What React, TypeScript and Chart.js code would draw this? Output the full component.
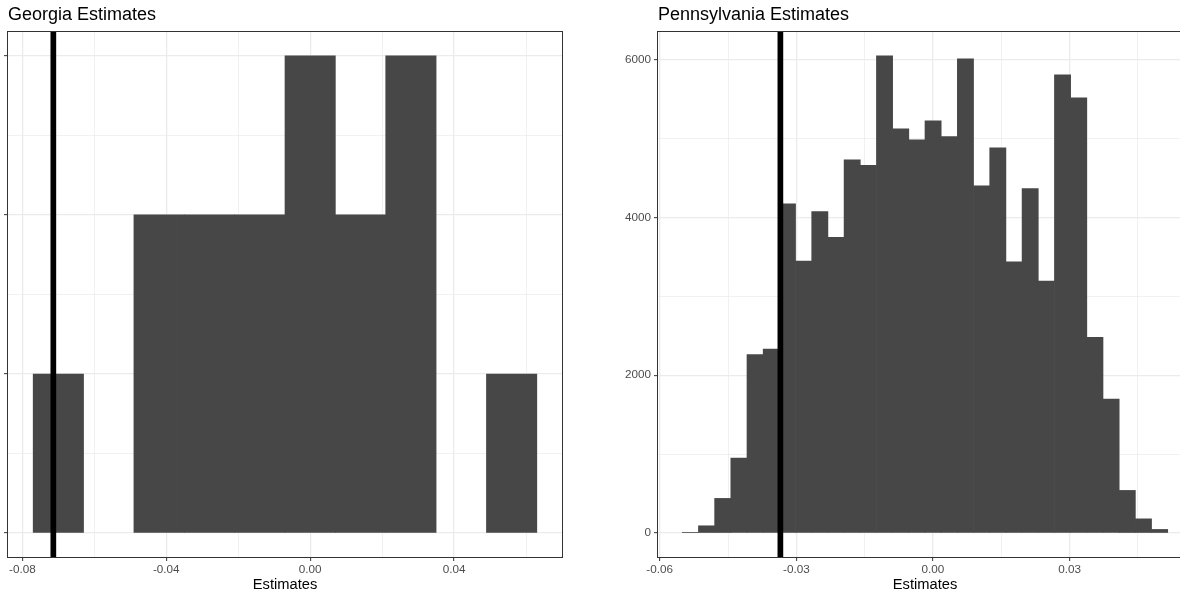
import React, { useEffect, useRef } from "react";
import { Chart, registerables } from "chart.js";

Chart.register(...registerables);

const FONT = '"Liberation Sans", Arial, Helvetica, sans-serif';

// ---------- Georgia ----------
const gaTitle = "Georgia Estimates";
const gaBinCenters = [-0.07, -0.056, -0.042, -0.028, -0.014, 0.0, 0.014, 0.028, 0.042, 0.056];
const gaCounts = [1, 0, 2, 2, 2, 3, 2, 3, 0, 1];
const gaBinWidth = 0.014;
const gaVLine = -0.0714;
const gaXTicks = [-0.08, -0.06, -0.04, -0.02, 0, 0.02, 0.04, 0.06];
const gaXMajor = [-0.08, -0.04, 0, 0.04];
const gaYTicks = [0, 0.5, 1, 1.5, 2, 2.5, 3];
const gaYMajor = [0, 1, 2, 3];

// ---------- Pennsylvania ----------
const paTitle = "Pennsylvania Estimates";
const paBinCenters = [
  -0.053264, -0.049711, -0.046158, -0.042605, -0.039052, -0.035499, -0.031946, -0.028393,
  -0.02484, -0.021287, -0.017734, -0.014181, -0.010628, -0.007075, -0.003522, 0.000031,
  0.003584, 0.007137, 0.01069, 0.014243, 0.017796, 0.021349, 0.024902, 0.028455,
  0.032008, 0.035561, 0.039114, 0.042667, 0.04622, 0.049773,
];
const paCounts = [
  10, 93, 440, 950, 2260, 2332, 4170, 3447, 4072, 3747, 4727, 4660, 6045, 5120, 4981,
  5222, 5023, 6008, 4398, 4880, 3435, 4364, 3194, 5805, 5513, 2480, 1698, 541, 181, 47,
];
const paBinWidth = 0.003553;
const paVLine = -0.0335;
const paXTicks = [-0.06, -0.045, -0.03, -0.015, 0, 0.015, 0.03, 0.045];
const paXMajor = [-0.06, -0.03, 0, 0.03];
const paYTicks = [0, 1000, 2000, 3000, 4000, 5000, 6000];
const paYMajor = [0, 2000, 4000, 6000];

const xAxisTitle = "Estimates";

const isIn = (v: number, arr: number[]) => arr.some((a) => Math.abs(a - v) < 1e-9);

interface PanelSpec {
  title: string;
  centers: number[];
  counts: number[];
  binWidth: number;
  vline: number;
  xTicks: number[];
  xMajor: number[];
  yTicks: number[];
  yMajor: number[];
  yAxisWidth: number;
  showYLabels: boolean;
  yFormat: (v: number) => string;
  padRight: number;
}

function makeConfig(p: PanelSpec): any {
  const xLo = p.centers[0] - p.binWidth / 2;
  const xHi = p.centers[p.centers.length - 1] + p.binWidth / 2;
  const xPad = 0.05 * (xHi - xLo);
  const yMaxData = Math.max(...p.counts);
  const yPad = 0.05 * yMaxData;
  const yMin = -yPad;
  const yMax = yMaxData + yPad;

  const decorPlugin = {
    id: "panelDecor",
    afterDraw(chart: any) {
      const { ctx, chartArea } = chart;
      ctx.save();
      ctx.strokeStyle = "#333333";
      ctx.lineWidth = 1;
      ctx.strokeRect(
        Math.round(chartArea.left) - 0.5,
        Math.round(chartArea.top) - 0.5,
        Math.round(chartArea.right - chartArea.left) + 1,
        Math.round(chartArea.bottom - chartArea.top) + 1
      );
      ctx.fillStyle = "#000000";
      ctx.font = `18px ${FONT}`;
      ctx.textAlign = "left";
      ctx.textBaseline = "alphabetic";
      ctx.fillText(p.title, chartArea.left, 20);
      ctx.restore();
    },
  };

  return {
    type: "bar",
    data: {
      datasets: [
        {
          type: "line",
          data: [
            { x: p.vline, y: yMin },
            { x: p.vline, y: yMax },
          ],
          borderColor: "#000000",
          borderWidth: 5.7,
          borderCapStyle: "butt",
          pointRadius: 0,
          fill: false,
          order: 0,
        },
        {
          type: "bar",
          data: p.centers.map((c, i) => ({ x: c, y: p.counts[i] === 0 ? null : p.counts[i] })),
          backgroundColor: "#474747",
          borderWidth: 0,
          barPercentage: 1,
          categoryPercentage: 1,
          order: 1,
        },
      ],
    },
    options: {
      responsive: false,
      maintainAspectRatio: false,
      animation: false,
      devicePixelRatio: 1,
      events: [],
      layout: { padding: { top: 32, left: 0, right: p.padRight, bottom: 0 } },
      plugins: { legend: { display: false }, tooltip: { enabled: false }, title: { display: false } },
      scales: {
        x: {
          type: "linear",
          min: xLo - xPad,
          max: xHi + xPad,
          offset: false,
          afterBuildTicks: (s: any) => {
            s.ticks = p.xTicks.map((v) => ({ value: v }));
          },
          afterFit: (s: any) => {
            s.height = 36;
          },
          border: { display: false },
          grid: {
            offset: false,
            drawTicks: true,
            tickLength: 4,
            color: "#EBEBEB",
            lineWidth: (ctx: any) => (ctx.tick && isIn(ctx.tick.value, p.xMajor) ? 1.3 : 0.7),
            tickColor: (ctx: any) => (ctx.tick && isIn(ctx.tick.value, p.xMajor) ? "#333333" : "rgba(0,0,0,0)"),
            tickWidth: 1,
          },
          ticks: {
            autoSkip: false,
            maxRotation: 0,
            minRotation: 0,
            includeBounds: false,
            padding: 2,
            color: "#4D4D4D",
            font: { family: FONT, size: 11.7 },
            callback: (v: any) => (isIn(Number(v), p.xMajor) ? Number(v).toFixed(2) : ""),
          },
          title: {
            display: true,
            text: xAxisTitle,
            color: "#000000",
            font: { family: FONT, size: 14.7, lineHeight: 1.1 },
            padding: { top: 0, bottom: 0 },
          },
        },
        y: {
          type: "linear",
          min: yMin,
          max: yMax,
          afterBuildTicks: (s: any) => {
            s.ticks = p.yTicks.map((v) => ({ value: v }));
          },
          afterFit: (s: any) => {
            s.width = p.yAxisWidth;
          },
          border: { display: false },
          grid: {
            drawTicks: true,
            tickLength: 4,
            color: "#EBEBEB",
            lineWidth: (ctx: any) => (ctx.tick && isIn(ctx.tick.value, p.yMajor) ? 1.3 : 0.7),
            tickColor: (ctx: any) => (ctx.tick && isIn(ctx.tick.value, p.yMajor) ? "#333333" : "rgba(0,0,0,0)"),
            tickWidth: 1,
          },
          ticks: {
            display: p.showYLabels,
            autoSkip: false,
            includeBounds: false,
            padding: 3,
            color: "#4D4D4D",
            font: { family: FONT, size: 11.7 },
            callback: (v: any) => (isIn(Number(v), p.yMajor) ? p.yFormat(Number(v)) : ""),
          },
        },
      },
    },
    plugins: [decorPlugin],
  };
}

export default function App() {
  const leftRef = useRef<HTMLCanvasElement>(null);
  const rightRef = useRef<HTMLCanvasElement>(null);

  useEffect(() => {
    const c1 = new Chart(
      leftRef.current as HTMLCanvasElement,
      makeConfig({
        title: gaTitle,
        centers: gaBinCenters,
        counts: gaCounts,
        binWidth: gaBinWidth,
        vline: gaVLine,
        xTicks: gaXTicks,
        xMajor: gaXMajor,
        yTicks: gaYTicks,
        yMajor: gaYMajor,
        yAxisWidth: 8,
        showYLabels: false,
        yFormat: (v) => String(v),
        padRight: 13,
      })
    );
    const c2 = new Chart(
      rightRef.current as HTMLCanvasElement,
      makeConfig({
        title: paTitle,
        centers: paBinCenters,
        counts: paCounts,
        binWidth: paBinWidth,
        vline: paVLine,
        xTicks: paXTicks,
        xMajor: paXMajor,
        yTicks: paYTicks,
        yMajor: paYMajor,
        yAxisWidth: 80,
        showYLabels: true,
        yFormat: (v) => String(Math.round(v)),
        padRight: 6,
      })
    );
    return () => {
      c1.destroy();
      c2.destroy();
    };
  }, []);

  return (
    <div
      style={{
        position: "fixed",
        left: 0,
        top: 0,
        width: 1180,
        height: 593,
        overflow: "hidden",
        background: "#ffffff",
      }}
    >
      <canvas
        ref={leftRef}
        width={575}
        height={593}
        style={{ position: "absolute", left: 0, top: 0, width: 575, height: 593 }}
      />
      <canvas
        ref={rightRef}
        width={620}
        height={593}
        style={{ position: "absolute", left: 578, top: 0, width: 620, height: 593 }}
      />
    </div>
  );
}
